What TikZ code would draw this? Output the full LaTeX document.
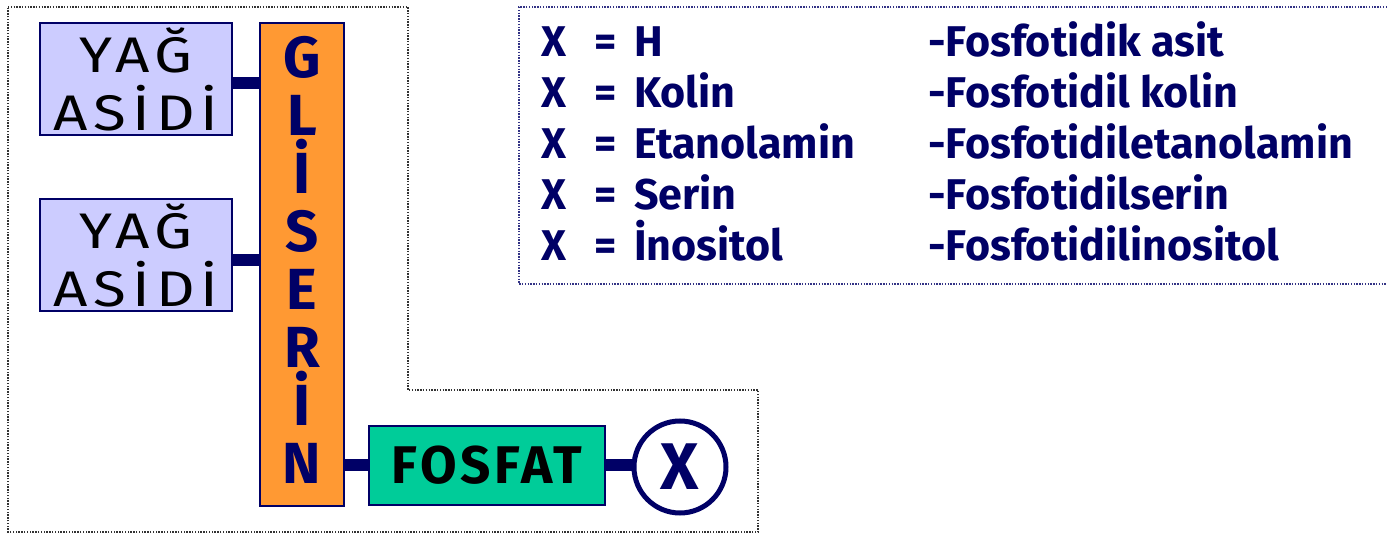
\documentclass[tikz,border=0pt]{standalone}
\usepackage{fontspec}
\setmainfont{Fira Sans}
\usepackage{graphicx}
\definecolor{navy}{HTML}{000066}
\definecolor{lav}{HTML}{CCCCFF}
\definecolor{org}{HTML}{FF9933}
\definecolor{grn}{HTML}{00CC99}
\newcommand{\wide}[1]{\scalebox{1.2}[1]{\addfontfeatures{LetterSpace=10}#1}}
\begin{document}
\begin{tikzpicture}[x=1pt,y=-1pt,
  outline/.style={line width=1.4pt, dash pattern=on 1.4pt off 1.4pt},
  fabox/.style={draw=navy, line width=2pt, fill=lav, minimum width=192pt, minimum height=112pt, inner sep=0pt, align=center, font=\fontsize{50}{58}\selectfont},
  conn/.style={draw=navy, line width=12pt},
  rowl/.style={anchor=base west, inner sep=0pt, text=navy, font=\fontsize{43}{50}\bfseries\selectfont}]
\useasboundingbox (0,0) rectangle (1387,534);
\draw[outline, black!80] (8,7) -- (408,7) -- (408,390) -- (758,390) -- (758,532) -- (8,532) -- cycle;
\draw[outline, navy!80] (1387,7) -- (519,7) -- (519,284) -- (1387,284);
\node[fabox] (ya1) at (136,79) {\wide{YAĞ}\\\wide{ASİDİ}};
\node[fabox] (ya2) at (136,255) {\wide{YAĞ}\\\wide{ASİDİ}};
\node[draw=navy, line width=2pt, fill=org, minimum width=84pt, minimum height=483pt, inner sep=0pt, align=center, text=navy, font=\fontsize{58}{58}\bfseries\selectfont] (gl) at (302,264.5) {G\\L\\İ\\S\\E\\R\\İ\\N\rule[-10pt]{0pt}{10pt}};
\node[draw=navy, line width=2pt, fill=grn, minimum width=236pt, minimum height=79pt, inner sep=0pt, font=\fontsize{53}{60}\bfseries\selectfont] (fo) at (487,465.5) {\addfontfeatures{LetterSpace=7}FOSFAT};
\node[circle, draw=navy, line width=5pt, fill=white, minimum size=92pt, inner sep=0pt, text=navy, font=\fontsize{66}{70}\bfseries\selectfont] (x) at (680,467) {X};
\draw[conn] ([yshift=-4pt]ya1.east) -- ([yshift=-4pt]ya1.east -| gl.west);
\draw[conn] ([yshift=-5pt]ya2.east) -- ([yshift=-5pt]ya2.east -| gl.west);
\draw[conn] ([yshift=1pt]fo.west -| gl.east) -- ([yshift=1pt]fo.west);
\draw[conn] ([yshift=1pt]fo.east) -- ([yshift=1pt]fo.east -| x.west);
\node[rowl] (l1) at (541,57) {\makebox[53pt][l]{X}\makebox[40pt][l]{=}H};
\node[rowl] (l2) at (541,108) {\makebox[53pt][l]{X}\makebox[40pt][l]{=}Kolin};
\node[rowl] (l3) at (541,159) {\makebox[53pt][l]{X}\makebox[40pt][l]{=}Etanolamin};
\node[rowl] (l4) at (541,210) {\makebox[53pt][l]{X}\makebox[40pt][l]{=}Serin};
\node[rowl] (l5) at (541,261) {\makebox[53pt][l]{X}\makebox[40pt][l]{=}İnositol};
\node[rowl] (r1) at (928,57) {-Fosfotidik asit};
\node[rowl] (r2) at (928,108) {-Fosfotidil kolin};
\node[rowl] (r3) at (928,159) {-Fosfotidiletanolamin};
\node[rowl] (r4) at (928,210) {-Fosfotidilserin};
\node[rowl] (r5) at (928,261) {-Fosfotidilinositol};
\end{tikzpicture}
\end{document}
